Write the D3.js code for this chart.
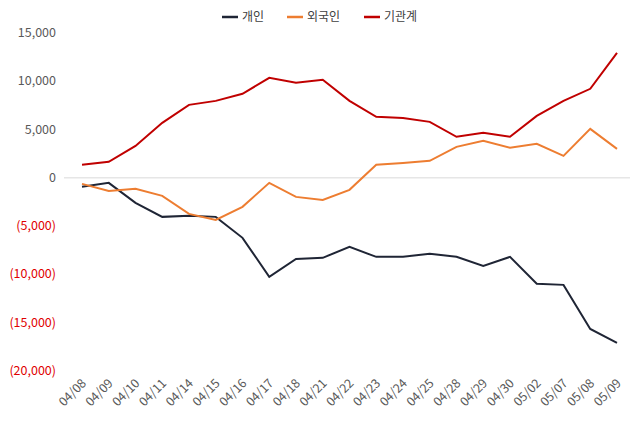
<!DOCTYPE html>
<html><head><meta charset="utf-8">
<script src="https://cdn.jsdelivr.net/npm/d3@7"></script>
<style>body{margin:0;background:#fff;font-family:"Noto Sans CJK KR","Noto Sans",sans-serif;}</style>
</head><body><svg id="c" width="636" height="426"></svg>
<script>
const dates=["04/08","04/09","04/10","04/11","04/14","04/15","04/16","04/17","04/18","04/21","04/22","04/23","04/24","04/25","04/28","04/29","04/30","05/02","05/07","05/08","05/09"];
const individual=[-930,-520,-2590,-4040,-3930,-4040,-6210,-10250,-8390,-8280,-7150,-8180,-8180,-7870,-8180,-9110,-8180,-10970,-11080,-15640,-17090];
const foreign=[-620,-1350,-1140,-1860,-3730,-4350,-3000,-520,-1970,-2280,-1240,1350,1550,1760,3210,3830,3110,3520,2280,5070,3000];
const institution=[1350,1660,3310,5700,7560,7970,8700,10360,9840,10150,7970,6320,6210,5800,4250,4660,4250,6420,7970,9220,12940];
const yTicks=[15000,10000,5000,0,-5000,-10000,-15000,-20000];
const series=[{name:"개인",values:individual,color:"#1f2535"},{name:"외국인",values:foreign,color:"#ed7d31"},{name:"기관계",values:institution,color:"#c00000"}];

const svg=d3.select("#c");
const x=d3.scalePoint().domain(dates).range([82,617]);
const y=d3.scaleLinear().domain([-20000,15000]).range([371,33]);
const fmt=v=>v<0?"("+d3.format(",")(-v)+")":d3.format(",")(v);
svg.append("line").attr("x1",64).attr("x2",630).attr("y1",y(0)).attr("y2",y(0)).attr("stroke","#d9d9d9");
svg.selectAll(".yt").data(yTicks).join("text").attr("x",56).attr("y",d=>y(d)+4).attr("text-anchor","end")
 .attr("font-size",12.5).attr("fill",d=>d<0?"#e00000":"#595959").text(fmt);
svg.selectAll(".xt").data(dates).join("text").attr("transform",d=>`translate(${x(d)+5},${384}) rotate(-45)`)
 .attr("text-anchor","end").attr("font-size",12.5).attr("fill","#595959").text(d=>d);
const line=d3.line().x((d,i)=>x(dates[i])).y(d=>y(d));
series.forEach(s=>svg.append("path").attr("d",line(s.values)).attr("fill","none").attr("stroke",s.color).attr("stroke-width",2));
const lx=[222,287,364];
series.forEach((s,i)=>{
 svg.append("line").attr("x1",lx[i]).attr("x2",lx[i]+16).attr("y1",17).attr("y2",17).attr("stroke",s.color).attr("stroke-width",2.5);
 svg.append("text").attr("x",lx[i]+20).attr("y",21).attr("font-size",12).attr("fill","#404040").text(s.name);
});
</script></body></html>
